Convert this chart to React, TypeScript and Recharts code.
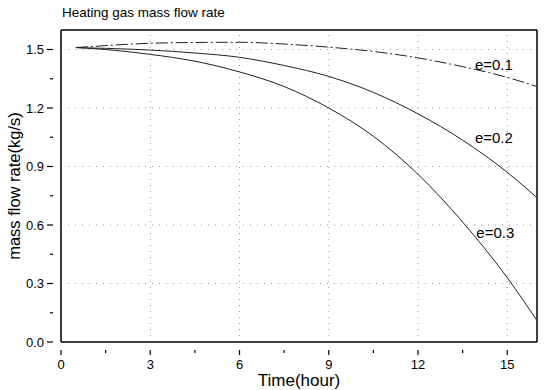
import { LineChart, Line, XAxis, YAxis, ReferenceLine, ReferenceDot } from 'recharts';

const hours = [0.5, 1.5, 3, 4.5, 6, 7.5, 9, 10.5, 12, 13.5, 15, 16];
const e01 = [1.51, 1.52, 1.532, 1.536, 1.537, 1.528, 1.512, 1.49, 1.457, 1.412, 1.357, 1.31];
const e02 = [1.51, 1.506, 1.497, 1.482, 1.46, 1.418, 1.362, 1.28, 1.17, 1.035, 0.87, 0.74];
const e03 = [1.51, 1.5, 1.475, 1.44, 1.385, 1.31, 1.2, 1.055, 0.86, 0.615, 0.33, 0.11];

const xTicks = [0, 1.5, 3, 4.5, 6, 7.5, 9, 10.5, 12, 13.5, 15];
const yTicks = [0, 0.15, 0.3, 0.45, 0.6, 0.75, 0.9, 1.05, 1.2, 1.35, 1.5];
const xMajor = [3, 6, 9, 12, 15];
const yMajor = [0.3, 0.6, 0.9, 1.2, 1.5];

const curveLabels = [
  { t: 14.55, v: 1.42, text: 'e=0.1' },
  { t: 14.55, v: 1.05, text: 'e=0.2' },
  { t: 14.6, v: 0.56, text: 'e=0.3' },
];

const data = hours.map((t, i) => ({ t, e01: e01[i], e02: e02[i], e03: e03[i] }));

const font = '"Liberation Sans", Arial, sans-serif';

const XTick = ({ x, y, payload }: any) => {
  const major = Math.abs(payload.value % 3) < 1e-6;
  return (
    <g>
      <line x1={x} x2={x} y1={y} y2={y + (major ? 5 : 3)} stroke="#000" strokeWidth={1.2} />
      {major && (
        <text x={x} y={y + 19} textAnchor="middle" fontSize={13} fontFamily={font} fill="#000">
          {payload.value}
        </text>
      )}
    </g>
  );
};

const YTick = ({ x, y, payload }: any) => {
  const major = Math.abs(Math.round(payload.value / 0.3) * 0.3 - payload.value) < 1e-6;
  return (
    <g>
      <line x1={x - (major ? 6 : 3)} x2={x} y1={y} y2={y} stroke="#000" strokeWidth={1.2} />
      {major && (
        <text x={x - 9} y={y + 4.5} textAnchor="end" fontSize={13} fontFamily={font} fill="#000">
          {payload.value.toFixed(1)}
        </text>
      )}
    </g>
  );
};

export default function App() {
  return (
    <div style={{ position: 'absolute', left: 0, top: 0, width: 546, height: 390, background: '#fff' }}>
      <div style={{ position: 'absolute', left: 62, top: 5, fontFamily: font, fontSize: 13.5 }}>
        Heating gas mass flow rate
      </div>
      <LineChart width={546} height={390} data={data} margin={{ top: 30, right: 9, left: 0, bottom: 0 }}>
        {xMajor.map((v) => (
          <ReferenceLine key={'gx' + v} x={v} stroke="#999" strokeDasharray="1 5" />
        ))}
        {yMajor.map((v) => (
          <ReferenceLine key={'gy' + v} y={v} stroke="#999" strokeDasharray="1 6" />
        ))}
        <XAxis
          dataKey="t"
          type="number"
          domain={[0, 16]}
          ticks={xTicks}
          tick={<XTick />}
          tickLine={false}
          axisLine={{ stroke: '#000', strokeWidth: 1.5 }}
          height={48}
          interval={0}
          label={{ value: 'Time(hour)', position: 'insideBottom', offset: 0, dy: -4, fontSize: 17, fontFamily: font, fill: '#000' }}
        />
        <YAxis
          type="number"
          domain={[0, 1.6]}
          ticks={yTicks}
          tick={<YTick />}
          tickLine={false}
          axisLine={{ stroke: '#000', strokeWidth: 1.5 }}
          width={61}
          interval={0}
          allowDataOverflow
          label={{ value: 'mass flow rate(kg/s)', angle: -90, position: 'insideLeft', offset: 14, fontSize: 16.5, fontFamily: font, fill: '#000', style: { textAnchor: 'middle' } }}
        />
        <ReferenceLine y={1.6} stroke="#000" strokeWidth={1.5} />
        <ReferenceLine x={16} stroke="#000" strokeWidth={1.5} />
        <Line type="monotone" dataKey="e01" stroke="#222" strokeWidth={1} strokeDasharray="12 3 2 3" dot={false} isAnimationActive={false} />
        <Line type="monotone" dataKey="e02" stroke="#222" strokeWidth={1} dot={false} isAnimationActive={false} />
        <Line type="monotone" dataKey="e03" stroke="#222" strokeWidth={1} dot={false} isAnimationActive={false} />
        {curveLabels.map((l) => (
          <ReferenceDot
            key={l.text}
            x={l.t}
            y={l.v}
            r={0}
            stroke="none"
            fill="none"
            label={{ value: l.text, position: 'center', fontSize: 15, fontFamily: font, fill: '#000' }}
          />
        ))}
      </LineChart>
    </div>
  );
}
